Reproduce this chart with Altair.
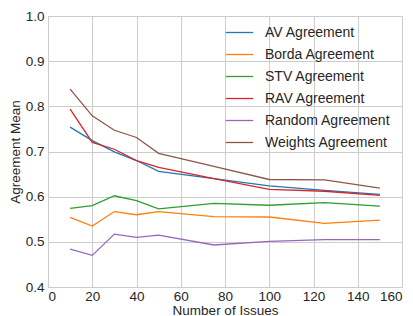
import altair as alt
import pandas as pd

issues = [10, 20, 30, 40, 50, 75, 100, 125, 150]
series_names = ["AV Agreement", "Borda Agreement", "STV Agreement",
                "RAV Agreement", "Random Agreement", "Weights Agreement"]
av = [0.754, 0.724, 0.699, 0.680, 0.656, 0.640, 0.624, 0.614, 0.605]
borda = [0.554, 0.535, 0.567, 0.560, 0.567, 0.556, 0.555, 0.541, 0.548]
stv = [0.574, 0.580, 0.602, 0.591, 0.573, 0.585, 0.581, 0.587, 0.579]
rav = [0.794, 0.720, 0.705, 0.680, 0.665, 0.640, 0.616, 0.612, 0.603]
rnd = [0.484, 0.470, 0.517, 0.510, 0.515, 0.493, 0.501, 0.505, 0.505]
weights = [0.838, 0.779, 0.747, 0.731, 0.696, 0.667, 0.638, 0.637, 0.619]
colors = ["#1f77b4", "#ff7f0e", "#2ca02c", "#d62728", "#9467bd", "#8c564b"]

rows = []
for name, vals in zip(series_names, [av, borda, stv, rav, rnd, weights]):
    for x, y in zip(issues, vals):
        rows.append({"issues": x, "mean": y, "series": name})
df = pd.DataFrame(rows)

font = "Liberation Sans"
chart = alt.Chart(df).mark_line(strokeWidth=1.3).encode(
    x=alt.X("issues:Q", title="Number of Issues",
            scale=alt.Scale(domain=[0, 160], nice=False),
            axis=alt.Axis(values=list(range(0, 161, 20)))),
    y=alt.Y("mean:Q", title="Agreement Mean",
            scale=alt.Scale(domain=[0.4, 1.0], nice=False, zero=False),
            axis=alt.Axis(values=[0.4, 0.5, 0.6, 0.7, 0.8, 0.9, 1.0], format=".1f")),
    color=alt.Color("series:N", sort=series_names,
                    scale=alt.Scale(domain=series_names, range=colors),
                    legend=alt.Legend(title=None, orient="none",
                                      legendX=177, legendY=2,
                                      symbolType="stroke", symbolSize=750,
                                      symbolStrokeWidth=1.3,
                                      labelFontSize=14, labelFont=font,
                                      labelColor="#262626",
                                      rowPadding=-14, labelOffset=11)),
).properties(
    width=354, height=271,
    autosize=alt.AutoSizeParams(type="none"),
    padding={"left": 40, "top": 8, "right": 3, "bottom": 29},
).configure_view(
    stroke="#cccccc", strokeWidth=1
).configure_axis(
    grid=True, gridColor="#cccccc", gridWidth=1,
    domain=False, ticks=False,
    labelFont=font, labelFontSize=13.5, labelColor="#262626", labelPadding=4,
    titleFont=font, titleFontSize=13.5, titleColor="#262626", titleFontWeight="normal",
).configure_axisX(labelPadding=2, titlePadding=1).configure_axisY(titlePadding=3)

chart.save("out.html", embed_options={"renderer": "svg", "actions": False})
